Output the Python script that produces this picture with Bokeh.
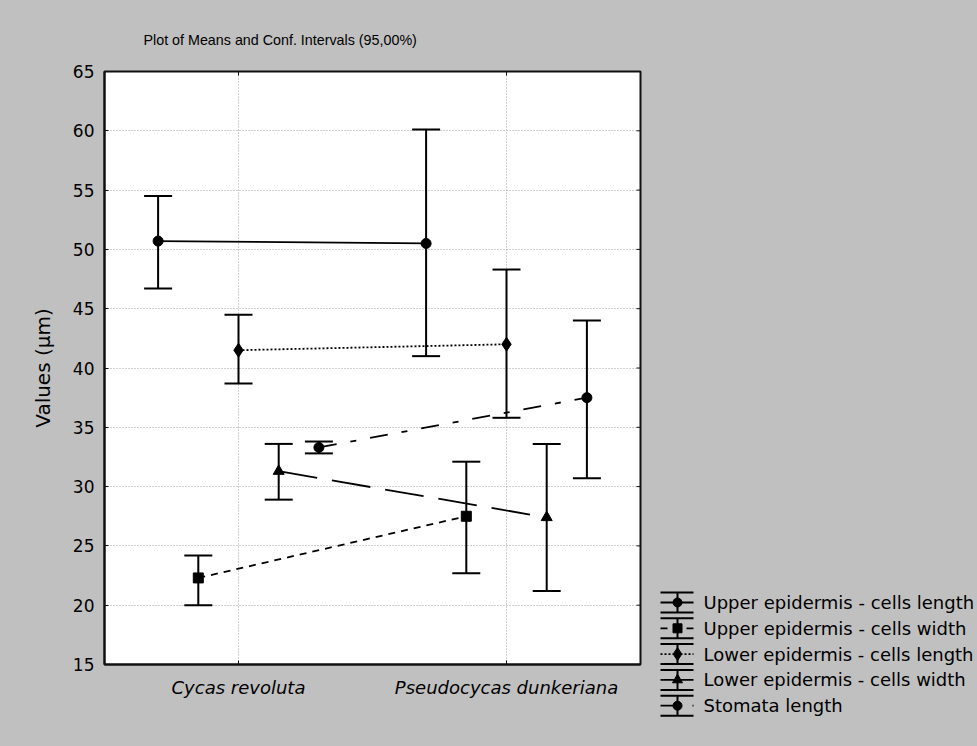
import math
from bokeh.plotting import figure
from bokeh.models import ColumnDataSource, FactorRange, Range1d, Title, FixedTicker
from bokeh.transform import dodge
from bokeh.layouts import row
from bokeh.core.properties import value
from bokeh.embed import file_html
from bokeh.resources import INLINE

# ---------------- data ----------------
categories = ["Cycas revoluta", "Pseudocycas dunkeriana"]
series_names = [
    "Upper epidermis - cells length",
    "Upper epidermis - cells width",
    "Lower epidermis - cells length",
    "Lower epidermis - cells width",
    "Stomata length",
]

ue_len_mean = [50.7, 50.5]
ue_len_low = [46.7, 41.0]
ue_len_high = [54.5, 60.1]

ue_wid_mean = [22.3, 27.5]
ue_wid_low = [20.0, 22.7]
ue_wid_high = [24.2, 32.1]

le_len_mean = [41.5, 42.0]
le_len_low = [38.7, 35.8]
le_len_high = [44.5, 48.3]

le_wid_mean = [31.3, 27.4]
le_wid_low = [28.9, 21.2]
le_wid_high = [33.6, 33.6]

st_len_mean = [33.3, 37.5]
st_len_low = [32.8, 30.7]
st_len_high = [33.8, 44.0]

y_ticks = [15, 20, 25, 30, 35, 40, 45, 50, 55, 60, 65]

means = [ue_len_mean, ue_wid_mean, le_len_mean, le_wid_mean, st_len_mean]
lows = [ue_len_low, ue_wid_low, le_len_low, le_wid_low, st_len_low]
highs = [ue_len_high, ue_wid_high, le_len_high, le_wid_high, st_len_high]

# ---------------- styles ----------------
offsets = [-0.3, -0.15, 0.0, 0.15, 0.3]
markers = ["circle", "square", "diamond", "triangle", "circle"]
marker_sizes = [10, 10, 14, 11, 10]
dashes = ["solid", "7 6", "2 2", "39 15", "18 14 6 14"]
FONT = "DejaVu Sans"
BG = "#c0c0c0"
DARK = "#101010"

p = figure(width=650, height=746,
           x_range=FactorRange(*categories, range_padding=0),
           y_range=Range1d(15, 65),
           output_backend="svg", toolbar_location=None,
           min_border_left=104, min_border_right=10,
           min_border_top=71, min_border_bottom=82,
           styles={"background-color": BG})
p.frame_align = False
p.background_fill_color = "white"
p.border_fill_color = BG
p.outline_line_color = DARK
p.outline_line_width = 2

p.title = Title(text="Plot of Means and Conf. Intervals (95,00%)", align="left", offset=39,
                standoff=48, text_font="Liberation Sans", text_font_size="14.3px",
                text_font_style="normal", text_color="#000000")

p.yaxis.ticker = FixedTicker(ticks=y_ticks)
p.yaxis.axis_label = "Values (\u00b5m)"
p.yaxis.axis_label_text_font = FONT
p.yaxis.axis_label_text_font_size = "20px"
p.yaxis.axis_label_text_font_style = "normal"
p.yaxis.axis_label_text_color = "#000000"
p.yaxis.axis_label_standoff = 15
for ax in (p.xaxis[0], p.yaxis[0]):
    ax.axis_line_width = 2
    ax.axis_line_color = DARK
    ax.major_tick_in = 4
    ax.major_tick_out = 0
    ax.major_tick_line_color = DARK
    ax.minor_tick_line_color = None
    ax.major_label_text_font = FONT
    ax.major_label_text_color = "#000000"
p.yaxis.major_label_text_font_size = "17px"
p.yaxis.major_label_standoff = 10
p.xaxis.major_label_text_font_size = "18px"
p.xaxis.major_label_text_font_style = "italic"
p.xaxis.major_label_standoff = 12

p.xgrid.grid_line_color = "#a0a0a0"
p.xgrid.grid_line_dash = "1 2"
p.ygrid.grid_line_color = "#a0a0a0"
p.ygrid.grid_line_dash = "1 2"

# inward ticks on the right and top edges of the frame
p.scatter(x=[len(categories)] * len(y_ticks), y=y_ticks, marker="dash", size=8,
          line_color=DARK, line_width=1)
p.scatter(x=categories, y=[y_ticks[-1]] * len(categories), marker="dash", angle=math.pi / 2,
          size=8, line_color=DARK, line_width=1)

sources = []
for i in range(5):
    src = ColumnDataSource(dict(cat=categories, mean=means[i], lo=lows[i], hi=highs[i]))
    sources.append(src)
    xd = dodge("cat", offsets[i], range=p.x_range)
    p.line(x=xd, y="mean", source=src, line_color="black", line_width=1.8, line_dash=dashes[i])

for i in range(5):
    xd = dodge("cat", offsets[i], range=p.x_range)
    src = sources[i]
    p.segment(x0=xd, y0="lo", x1=xd, y1="hi", source=src, line_color="black", line_width=2)
    p.scatter(x=xd, y="hi", source=src, marker="dash", size=28, line_color="black", line_width=2)
    p.scatter(x=xd, y="lo", source=src, marker="dash", size=28, line_color="black", line_width=2)
    p.scatter(x=xd, y="mean", source=src, marker=markers[i], size=marker_sizes[i],
              fill_color="black", line_color="black")

# ---------------- legend panel ----------------
q = figure(width=327, height=746, x_range=Range1d(650, 977), y_range=Range1d(746, 0),
           x_axis_type=None, y_axis_type=None, min_border=0,
           output_backend="svg", toolbar_location=None,
           styles={"background-color": BG})
q.frame_align = False
q.background_fill_color = BG
q.border_fill_color = BG
q.outline_line_color = None
q.grid.visible = False

row_top = 602
row_step = 25.8
icon_l, icon_r, icon_c = 660, 693, 677
half = 10
for i in range(5):
    yc = row_top + i * row_step
    q.segment(x0=[icon_l, icon_l], y0=[yc - half, yc + half], x1=[icon_r, icon_r], y1=[yc - half, yc + half],
              line_color="black", line_width=2)
    q.segment(x0=[icon_c], y0=[yc - half], x1=[icon_c], y1=[yc + half], line_color="black", line_width=2)
    q.line(x=[icon_l, icon_r], y=[yc, yc], line_color="black", line_width=1.8, line_dash=dashes[i])
    q.scatter(x=[icon_c], y=[yc], marker=markers[i], size=marker_sizes[i] - 1,
              fill_color="black", line_color="black")
    q.text(x=[703], y=[yc], text=[series_names[i]], text_font=value(FONT),
           text_font_size=value("18px"), text_baseline="middle", text_align="left",
           text_color="#000000")

layout = row(p, q, styles={"background-color": BG})
open("out.html", "w").write(file_html(layout, INLINE))
